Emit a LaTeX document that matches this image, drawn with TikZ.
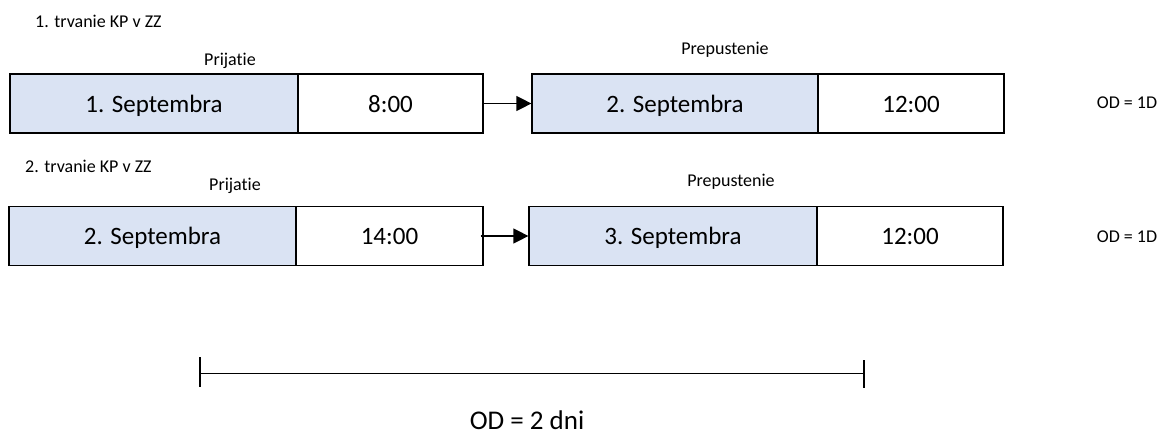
\documentclass[tikz,border=0pt]{standalone}
\usepackage{fontspec}
\setmainfont{Carlito}[Ligatures={NoCommon}]
\usetikzlibrary{arrows.meta}
\definecolor{boxblue}{HTML}{DAE3F3}
\tikzset{
  box/.style={draw=black, line width=1.2pt, inner sep=0pt, minimum height=59pt,
    text height=20pt, text depth=3pt,
    font=\fontsize{25}{30}\selectfont},
  bluebox/.style={box, fill=boxblue},
  whitebox/.style={box, fill=white},
  lbl/.style={inner sep=0pt, font=\fontsize{18}{22}\selectfont},
  conn/.style={line width=1.2pt, -{Triangle[length=15pt,width=15pt]}},
  bar/.style={line width=1.5pt}
}
\begin{document}
\begin{tikzpicture}[x=1pt,y=-1pt]
\useasboundingbox (0,0) rectangle (1166,436);
% row 1
\node[lbl, anchor=west] (t1) at (35,21) {1. trvanie KP v ZZ};
\node[lbl] (p1) at (230,61) {Prijatie};
\node[lbl] (q1) at (725,50) {Prepustenie};
\node[bluebox, minimum width=288] (a1) at (154,103.5) {1. Septembra};
\node[whitebox, minimum width=185] (a2) at (390.5,103.5) {8:00};
\node[bluebox, minimum width=286] (a3) at (675,103.5) {2. Septembra};
\node[whitebox, minimum width=186] (a4) at (911,103.5) {12:00};
\node[lbl] (o1) at (1127,103) {OD = 1D};
\draw[conn] (a2.east) -- (a3.west);
% row 2
\node[lbl, anchor=west] (t2) at (25,166) {2. trvanie KP v ZZ};
\node[lbl] (p2) at (235,186) {Prijatie};
\node[lbl] (q2) at (731,182) {Prepustenie};
\node[bluebox, minimum width=287] (c1) at (152.5,236) {2. Septembra};
\node[whitebox, minimum width=187] (c2) at (389.5,236) {14:00};
\node[bluebox, minimum width=288] (c3) at (673,236) {3. Septembra};
\node[whitebox, minimum width=186] (c4) at (910,236) {12:00};
\node[lbl] (o2) at (1127,237) {OD = 1D};
\draw[conn] ([xshift=-3pt]c2.east) -- (c3.west);
% bottom span
\coordinate (l) at (200,373.5);
\coordinate (r) at (864,373.5);
\coordinate (lt) at (200,357);
\coordinate (lb) at (200,387);
\coordinate (rt) at (864,360);
\coordinate (rb) at (864,388);
\draw[bar] (l) -- (r);
\draw[bar] (lt) -- (lb);
\draw[bar] (rt) -- (rb);
\node[inner sep=0pt, font=\fontsize{27}{32}\selectfont] (od) at (527,420) {OD = 2 dni};
\end{tikzpicture}
\end{document}
